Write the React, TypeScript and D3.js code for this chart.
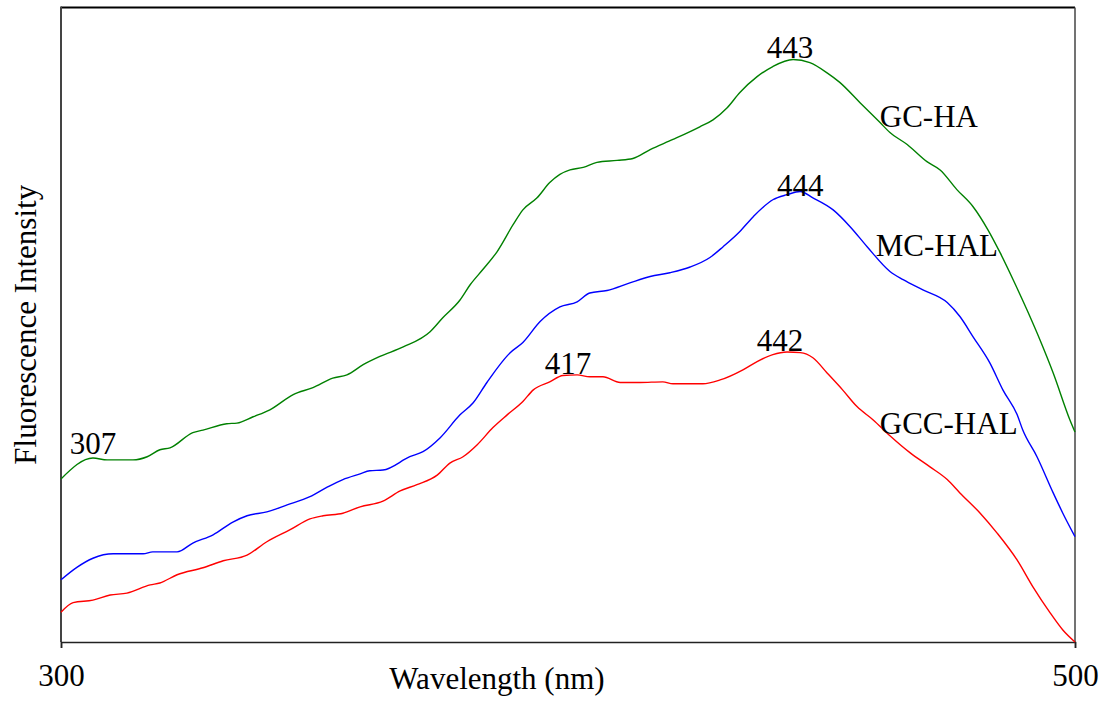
import { useEffect, useRef } from 'react'
import * as d3 from 'd3'

// wavelength (nm) / relative intensity pairs
const gcHA: [number, number][] = [
  [300, 25.7], [306.3, 29.0], [309.1, 28.7], [314.2, 28.7], [317.0, 29.2], [319.5, 30.3],
  [321.5, 30.6], [326.0, 33.0], [328.0, 33.4], [332.7, 34.4], [334.7, 34.5], [337.9, 35.5],
  [341.2, 36.6], [345.8, 39.0], [349.7, 40.1], [353.6, 41.6], [356.4, 42.1], [359.6, 43.7],
  [362.9, 45.0], [367.5, 46.5], [372.8, 48.9], [375.3, 51.1], [378.7, 53.9], [380.7, 56.3],
  [383.2, 58.7], [386.0, 61.5], [389.2, 65.8], [391.1, 68.1], [393.9, 70.0], [396.4, 72.4],
  [398.4, 73.7], [400.4, 74.4], [403.0, 74.8], [405.7, 75.6], [409.7, 75.9], [412.8, 76.2],
  [416.2, 77.6], [420.7, 79.2], [426.0, 81.2], [428.6, 82.3], [431.4, 84.2], [433.9, 86.6],
  [437.3, 89.1], [440.4, 90.7], [444.4, 91.8], [447.7, 91.3], [451.1, 89.7], [453.6, 88.2],
  [457.6, 85.0], [461.5, 81.9], [463.5, 80.3], [466.9, 78.4], [470.8, 75.7], [473.4, 74.4],
  [476.7, 71.3], [479.9, 68.6], [482.8, 65.0], [485.2, 61.4], [487.8, 57.1], [490.5, 52.4],
  [493.1, 47.6], [495.7, 42.4], [499.0, 35.0], [500, 33.1]
]

const mcHAL: [number, number][] = [
  [300, 9.8], [303.2, 11.8], [306.3, 13.2], [310.3, 13.9], [316.2, 13.9], [318.1, 14.2],
  [322.9, 14.2], [326.0, 15.6], [330.0, 16.9], [333.9, 18.9], [336.7, 19.9], [340.6, 20.5],
  [344.6, 21.6], [349.1, 22.9], [352.5, 24.4], [355.6, 25.6], [359.0, 26.5], [360.9, 27.0],
  [363.5, 27.1], [368.8, 29.2], [371.4, 30.0], [374.8, 32.2], [378.7, 35.8], [381.3, 37.7],
  [384.0, 40.9], [388.6, 45.6], [391.1, 47.2], [394.5, 50.5], [398.4, 52.8], [401.8, 53.6],
  [404.3, 55.0], [407.7, 55.4], [412.2, 56.6], [416.2, 57.6], [420.1, 58.2], [424.1, 59.1],
  [428.0, 60.6], [430.6, 62.3], [433.9, 64.7], [436.5, 67.0], [440.4, 69.7], [443.2, 70.5],
  [445.8, 71.0], [448.3, 70.0], [452.3, 68.1], [455.6, 65.5], [459.0, 62.3], [463.5, 58.4],
  [466.1, 57.1], [470.0, 55.5], [474.8, 53.5], [477.3, 51.3], [479.9, 48.1], [483.2, 44.0],
  [485.8, 39.7], [488.6, 35.8], [489.7, 33.4], [492.5, 29.2], [495.7, 23.5], [497.6, 20.3],
  [500, 16.6]
]

const gccHAL: [number, number][] = [
  [300, 4.7], [302.4, 6.2], [306.3, 6.6], [309.7, 7.4], [313.0, 7.7], [317.6, 9.0],
  [319.5, 9.3], [322.9, 10.6], [328.0, 11.7], [332.0, 12.8], [336.7, 13.7], [340.6, 15.8],
  [345.2, 17.7], [349.1, 19.4], [351.7, 19.9], [355.6, 20.3], [359.0, 21.3], [363.5, 22.2],
  [366.9, 23.8], [370.2, 24.8], [374.2, 26.3], [376.7, 28.2], [379.3, 29.2], [382.1, 31.1],
  [385.2, 33.8], [388.0, 35.8], [391.1, 37.9], [393.1, 39.7], [396.4, 41.0], [399.0, 42.0],
  [401.8, 42.1], [404.3, 41.8], [406.9, 41.8], [410.3, 40.9], [414.2, 40.9], [418.7, 41.0],
  [420.7, 40.7], [426.6, 40.7], [430.0, 41.3], [434.5, 42.9], [437.3, 44.2], [440.4, 45.3],
  [443.2, 45.7], [445.8, 45.6], [448.3, 44.8], [451.1, 42.4], [454.2, 39.7], [457.0, 37.1],
  [460.2, 35.0], [463.5, 32.5], [467.5, 29.8], [471.4, 27.6], [474.8, 25.6], [477.3, 23.5],
  [481.3, 20.3], [484.6, 17.2], [488.6, 12.9], [491.7, 8.7], [495.1, 4.6], [497.6, 1.9],
  [500, 0]
]

const seriesColors = ['#008000', '#0000ff', '#ff0000']
const seriesNames = ['GC-HA', 'MC-HAL', 'GCC-HAL']
// label anchors in data units [wavelength, intensity]
const nameAnchors: [number, number][] = [[461.5, 81.2], [460.7, 60.9], [461.5, 32.8]]
const peakLabels = ['307', '417', '442', '443', '444']
const peakAnchors: [number, number][] = [[306.3, 29.7], [400.0, 42.3], [441.8, 45.9], [443.8, 92.1], [445.8, 70.3]]
const xTicks = [300, 500]

export default function App() {
  const svgRef = useRef<SVGSVGElement>(null)
  const width = 1114
  const height = 702
  const margin = { top: 7.5, right: 39, bottom: 60, left: 61 }

  useEffect(() => {
    if (!svgRef.current) return
    const svg = d3.select(svgRef.current)
    svg.selectAll('*').remove()

    const x = d3.scaleLinear().domain([300, 500]).range([margin.left, width - margin.right])
    const y = d3.scaleLinear().domain([0, 100]).range([height - margin.bottom, margin.top])

    const font = '"Liberation Serif", "Times New Roman", serif'
    const fs = 31

    // frame
    svg.append('line')
      .attr('x1', x(300)).attr('x2', x(500))
      .attr('y1', y(100)).attr('y2', y(100))
      .attr('stroke', '#000').attr('stroke-width', 2)
    svg.append('line')
      .attr('x1', x(500)).attr('x2', x(500))
      .attr('y1', y(100)).attr('y2', y(0))
      .attr('stroke', '#444').attr('stroke-width', 1.5)
    svg.append('line')
      .attr('x1', x(300)).attr('x2', x(300))
      .attr('y1', y(100) - 1).attr('y2', y(0))
      .attr('stroke', '#444').attr('stroke-width', 2)

    // bottom axis
    const xAxis = d3.axisBottom(x).tickValues(xTicks).tickSize(6).tickFormat(d3.format('d'))
    const gx = svg.append('g')
      .attr('transform', `translate(0,${y(0)})`)
      .call(xAxis)
    gx.select('.domain').attr('stroke', '#222').attr('stroke-width', 1.5)
    gx.selectAll('.tick line').attr('stroke', '#222').attr('stroke-width', 1.5)
    gx.selectAll('.tick text')
      .attr('font-family', font).attr('font-size', fs).attr('fill', '#000')
      .attr('dy', 0).attr('y', 44)

    svg.append('text')
      .attr('x', 497).attr('y', 689)
      .attr('text-anchor', 'middle')
      .attr('font-family', font).attr('font-size', fs)
      .text('Wavelength (nm)')

    svg.append('text')
      .attr('transform', `translate(36,${(y(0) + y(100)) / 2}) rotate(-90)`)
      .attr('text-anchor', 'middle')
      .attr('font-family', font).attr('font-size', fs)
      .text('Fluorescence Intensity')

    const line = d3.line<[number, number]>()
      .x(d => x(d[0]))
      .y(d => y(d[1]))
      .curve(d3.curveMonotoneX)

    ;[gcHA, mcHAL, gccHAL].forEach((data, i) => {
      svg.append('path')
        .datum(data)
        .attr('fill', 'none')
        .attr('stroke', seriesColors[i])
        .attr('stroke-width', 1.4)
        .attr('d', line)
    })

    seriesNames.forEach((name, i) => {
      svg.append('text')
        .attr('x', x(nameAnchors[i][0])).attr('y', y(nameAnchors[i][1]))
        .attr('font-family', font).attr('font-size', fs)
        .text(name)
    })

    peakLabels.forEach((lab, i) => {
      svg.append('text')
        .attr('x', x(peakAnchors[i][0])).attr('y', y(peakAnchors[i][1]))
        .attr('text-anchor', 'middle')
        .attr('font-family', font).attr('font-size', fs)
        .text(lab)
    })
  }, [])

  return <svg ref={svgRef} width={width} height={height} style={{ position: 'absolute', left: 0, top: 0, background: '#fff' }} />
}
